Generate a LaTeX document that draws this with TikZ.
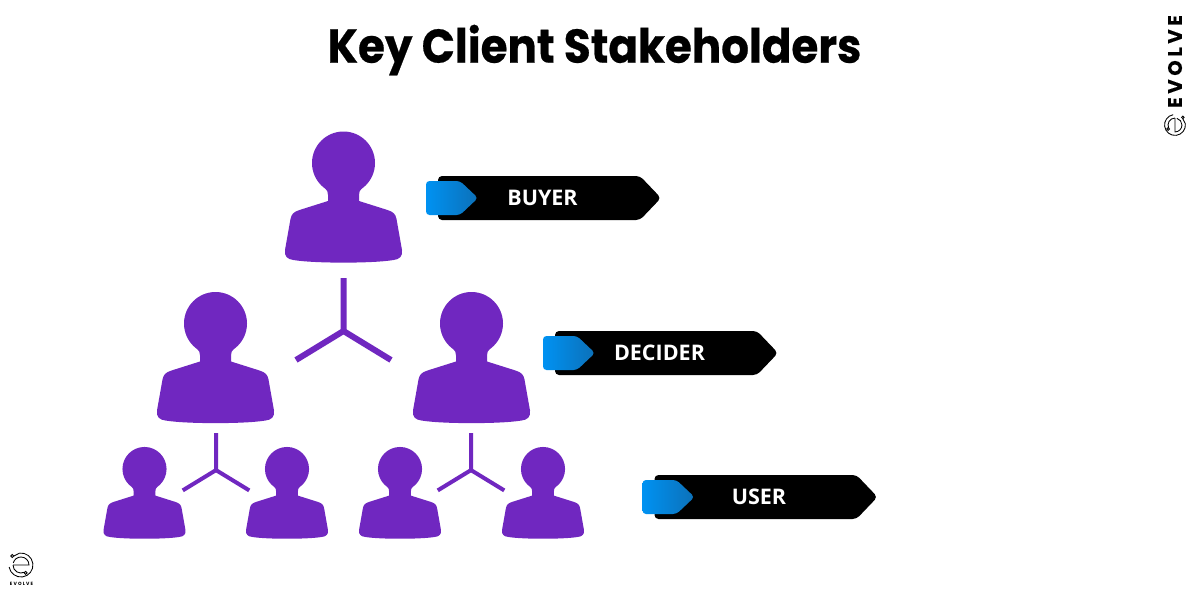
\documentclass[tikz,border=0pt]{standalone}
\usepackage{fontspec}
\setmainfont{Open Sans}
\newfontfamily\titlefont{Poppins}[FakeStretch=0.92,FakeBold=0.5]
\newfontfamily\brandfont{Poppins}[LetterSpace=19,FakeBold=0.5]
\newfontfamily\brandsmall{Poppins}[LetterSpace=25]
\usetikzlibrary{calc}
\definecolor{violetfill}{HTML}{7027C0}
\definecolor{bluea}{HTML}{0092F2}
\definecolor{blueb}{HTML}{0C70B8}
\newcommand{\personfig}[4]{%
  \begin{scope}[shift={(#2,#3)},scale=#4]
    \coordinate (#1) at (0,0);
    \fill[violetfill] (0,0) circle[radius=31.5];
    \fill[violetfill] (-18.5,25) .. controls (-16.2,27.5) and (-15.5,29) .. (-15.5,32) -- (-15.5,38) -- (-44,47) .. controls (-50,49) and (-52,51) .. (-53,56)
      -- (-58.5,87) .. controls (-59.5,93) and (-56,96.5) .. (-50,97)
      .. controls (-30,100.5) and (30,100.5) .. (50,97)
      .. controls (56,96.5) and (59.5,93) .. (58.5,87)
      -- (53,56) .. controls (52,51) and (50,49) .. (44,47)
      -- (15.5,38) -- (15.5,32) .. controls (15.5,29) and (16.2,27.5) .. (18.5,25) -- cycle;
  \end{scope}}
\newcommand{\tagfig}[4]{% name, left x, top y, text
  \fill[black,rounded corners=4] (#2,#3) -- ++(202,0) -- ++(21,22) -- ++(-21,22) -- ++(-202,0) -- cycle;
  \shade[left color=bluea,right color=blueb,rounded corners=3.5] (#2-12,#3+5) -- ++(34,0) -- ++(18,17) -- ++(-18,17) -- ++(-34,0) -- cycle;
  \node[tagtext] (#1) at (#2+104.5,#3+21.5) {#4};}
\newcommand{\hubfig}[5]{% name, x, top y, scale, width
  \coordinate (#1top) at (#2,#3);
  \coordinate (#1hub) at (#2,#3+53*#4);
  \coordinate (#1l) at ($(#1hub)+(-47.5*#4,29*#4)$);
  \coordinate (#1r) at ($(#1hub)+(47.5*#4,29*#4)$);
  \draw[hubline,line width=#5] (#1top) -- (#1hub) (#1l) -- (#1hub) -- (#1r);}
\newcommand{\logofig}[4]{% x,y,scale,rotation
  \begin{scope}[shift={(#1,#2)},rotate=#4,scale=#3,line width=0.85pt,draw=black]
    \draw (-1.5,-11.9) arc[start angle=-97,end angle=170,radius=12];
    \draw (-7.2,-9) .. controls (-5,-9) and (-4,-11.5) .. (-1.5,-11.9);
    \draw (-8.8,-9) circle[radius=1.5];
    \draw (-8,0) -- (8,0) arc[start angle=0,end angle=-165,radius=8];
    \draw (-8,0) arc[start angle=180,end angle=65,radius=8];
    \draw (4.6,7.9) circle[radius=1.5];
  \end{scope}}
\tikzset{
  tagtext/.style={text=white,font=\bfseries\fontsize{21.5}{25}\selectfont,inner sep=0pt,anchor=center},
  hubline/.style={draw=violetfill,line cap=butt,line join=miter},
  titletext/.style={font=\titlefont\bfseries\fontsize{47.4}{52}\selectfont,text=black,inner sep=0pt},
  brandtext/.style={font=\brandfont\bfseries\fontsize{19.5}{22}\selectfont,text=black,inner sep=0pt,rotate=90},
  brandtiny/.style={font=\brandsmall\bfseries\fontsize{4.6}{6}\selectfont,text=black,inner sep=0pt},
}
\begin{document}
\begin{tikzpicture}[x=1pt,y=-1pt]
\useasboundingbox (0,0) rectangle (1200,600);
\fill[white] (0,0) rectangle (1200,600);
\node[titletext] (title) at (594.5,50) {Key Client Stakeholders};
\node[brandtext] (brand) at (1175,61.5) {EVOLVE};
\logofig{1175}{125}{0.87}{-90}
\logofig{21}{565}{1}{0}
\node[brandtiny] (brandb) at (21.5,583.5) {EVOLVE};
\personfig{pa}{343.5}{163}{1}
\personfig{pb}{215.5}{323.5}{1}
\personfig{pc}{471.5}{323.5}{1}
\personfig{pd}{144.5}{469}{0.7}
\personfig{pe}{287}{469}{0.7}
\personfig{pf}{400}{469}{0.7}
\personfig{pg}{543}{469}{0.7}
\hubfig{h}{343.5}{278}{1}{6}
\hubfig{i}{216}{433}{0.7}{4}
\hubfig{j}{471}{433}{0.7}{4}
\tagfig{buyer}{438}{176}{BUYER}
\tagfig{decider}{555}{331}{DECIDER}
\tagfig{user}{654.5}{475}{USER}
\end{tikzpicture}
\end{document}
